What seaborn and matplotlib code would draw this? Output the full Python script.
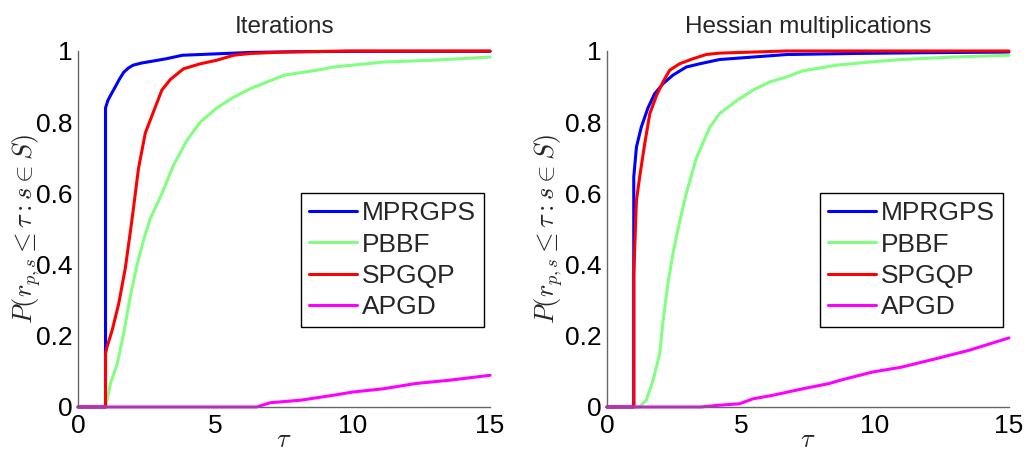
import numpy as np
import pandas as pd
import matplotlib
matplotlib.use("Agg")
import matplotlib.pyplot as plt
import seaborn as sns

# ---------------- data ----------------
methods = ["MPRGPS", "PBBF", "SPGQP", "APGD"]
colors = ["#0000ff", "#80ff80", "#ff0000", "#ff00ff"]
titles = ["Iterations", "Hessian multiplications"]

# Panel 1: Iterations
it_mprgps_tau = [0, 1, 1, 1.08, 1.18, 1.36, 1.5, 1.66, 1.83, 2.0, 2.3, 2.6, 3.2, 3.8, 5.05, 6.3, 8.0, 10.0, 15.0]
it_mprgps_val = [0, 0, 0.84, 0.86, 0.875, 0.90, 0.92, 0.94, 0.952, 0.96, 0.966, 0.97, 0.978, 0.988, 0.992,
                 0.996, 0.998, 0.999, 0.999]

it_pbbf_tau = [0, 1, 1.18, 1.42, 1.66, 1.9, 2.15, 2.39, 2.63, 3.0, 3.48, 3.97, 4.45, 5.05, 5.66,
               6.27, 6.88, 7.5, 8.7, 9.3, 10.5, 11.1, 12.9, 15.0]
it_pbbf_val = [0, 0, 0.066, 0.12, 0.206, 0.31, 0.40, 0.47, 0.53, 0.59, 0.68, 0.75, 0.80, 0.84, 0.87,
               0.894, 0.913, 0.932, 0.946, 0.955, 0.964, 0.969, 0.974, 0.983]

it_spgqp_tau = [0, 1, 1, 1.06, 1.24, 1.48, 1.72, 1.9, 2.02, 2.2, 2.45, 2.75, 3.05, 3.36, 3.84,
                4.45, 5.05, 5.66, 6.27, 7.5, 9.9, 15.0]
it_spgqp_val = [0, 0, 0.15, 0.17, 0.215, 0.29, 0.39, 0.49, 0.56, 0.67, 0.77, 0.83, 0.89, 0.92, 0.95,
                0.964, 0.974, 0.988, 0.993, 0.997, 1.0, 1.0]

it_apgd_tau = [0, 6.5, 7.0, 8.1, 9.3, 10.0, 11.1, 12.3, 13.5, 15.0]
it_apgd_val = [0, 0.0, 0.012, 0.019, 0.033, 0.042, 0.051, 0.066, 0.075, 0.089]

# Panel 2: Hessian multiplications
hm_mprgps_tau = [0, 1, 1, 1.1, 1.28, 1.53, 1.78, 2.09, 2.46, 2.96, 3.46, 4.2, 5.45, 6.7, 9.2, 11.7, 15.0]
hm_mprgps_val = [0, 0, 0.646, 0.73, 0.786, 0.84, 0.88, 0.908, 0.932, 0.955, 0.964, 0.976, 0.983,
                 0.99, 0.993, 0.995, 0.997]

hm_pbbf_tau = [0, 1.2, 1.47, 1.72, 1.97, 2.09, 2.28, 2.46, 2.71, 2.96, 3.34, 3.84, 4.2, 4.83, 5.45,
               6.07, 6.7, 7.3, 8.56, 9.8, 11.0, 12.9, 15.0]
hm_pbbf_val = [0, 0, 0.019, 0.075, 0.15, 0.24, 0.35, 0.43, 0.52, 0.60, 0.70, 0.786, 0.824, 0.86, 0.89,
               0.913, 0.927, 0.944, 0.96, 0.969, 0.976, 0.983, 0.988]

hm_spgqp_tau = [0, 1, 1, 1.1, 1.22, 1.41, 1.6, 1.85, 2.09, 2.34, 2.71, 3.2, 3.7, 4.2, 5.45, 6.7, 15.0]
hm_spgqp_val = [0, 0, 0.37, 0.58, 0.646, 0.74, 0.824, 0.875, 0.913, 0.946, 0.964, 0.978, 0.99,
                0.994, 0.997, 1.0, 1.0]

hm_apgd_tau = [0, 3.5, 4.2, 4.95, 5.45, 6.2, 7.3, 8.3, 8.7, 9.9, 11.0, 12.3, 13.5, 15.0]
hm_apgd_val = [0, 0, 0.005, 0.009, 0.023, 0.033, 0.051, 0.066, 0.075, 0.098, 0.112, 0.136, 0.159, 0.194]

x_ticks = [0, 5, 10, 15]
y_ticks = [0, 0.2, 0.4, 0.6, 0.8, 1]
y_ticklabels = ["0", "0.2", "0.4", "0.6", "0.8", "1"]

panels = [
    [(it_mprgps_tau, it_mprgps_val), (it_pbbf_tau, it_pbbf_val),
     (it_spgqp_tau, it_spgqp_val), (it_apgd_tau, it_apgd_val)],
    [(hm_mprgps_tau, hm_mprgps_val), (hm_pbbf_tau, hm_pbbf_val),
     (hm_spgqp_tau, hm_spgqp_val), (hm_apgd_tau, hm_apgd_val)],
]

# ---------------- style ----------------
sns.set_style("white")
plt.rcParams["font.family"] = ["Liberation Sans", "DejaVu Sans"]
plt.rcParams["mathtext.fontset"] = "cm"

fig = plt.figure(figsize=(10.27, 4.5), dpi=100)
ax_rects = [[0.0760, 0.0956, 0.4012, 0.7911], [0.5910, 0.0956, 0.3914, 0.7911]]
ylabel_x = [-0.085, -0.104]

for k in range(2):
    ax = fig.add_axes(ax_rects[k])
    rows = []
    for m, (t, v) in zip(methods, panels[k]):
        for ti, vi in zip(t, v):
            rows.append({"tau": ti, "P": vi, "method": m})
    df = pd.DataFrame(rows)
    sns.lineplot(data=df, x="tau", y="P", hue="method", hue_order=methods,
                 palette=colors, estimator=None, sort=False, units="method",
                 linewidth=2.2, ax=ax, legend=False)
    for ln in ax.get_lines():
        ln.set_clip_on(False)
    ax.set_xlim(0, 15)
    ax.set_ylim(0, 1)
    ax.set_xticks(x_ticks)
    ax.set_xticklabels([str(x) for x in x_ticks])
    ax.set_yticks(y_ticks)
    ax.set_yticklabels(y_ticklabels)
    for s in ["top", "right"]:
        ax.spines[s].set_visible(False)
    for s in ["left", "bottom"]:
        ax.spines[s].set_color("#666666")
        ax.spines[s].set_linewidth(1.0)
    ax.tick_params(axis="both", direction="in", length=4, width=1.0, color="#666666",
                   labelsize=19, labelcolor="black", pad=5)
    ax.tick_params(axis="y", pad=4)
    ax.set_title(titles[k], fontsize=17.5, pad=13)
    ax.set_xlabel(r"$\tau$", fontsize=19)
    ax.xaxis.set_label_coords(0.5, -0.06)
    ax.set_ylabel(r"$P(r_{p,s} \leq \tau : s \in S)$", fontsize=19)
    ax.yaxis.set_label_coords(ylabel_x[k], 0.5)
    handles = [plt.Line2D([], [], color=c, linewidth=2.2) for c in colors]
    leg = ax.legend(handles, methods, loc="upper right", bbox_to_anchor=(0.985, 0.60),
                    borderaxespad=0, fontsize=19, frameon=True, fancybox=False,
                    handlelength=1.8, handletextpad=0.2, labelspacing=0.28,
                    borderpad=0.3, framealpha=1)
    leg.get_frame().set_edgecolor("black")
    leg.get_frame().set_linewidth(1.0)

fig.savefig("out.png", dpi=100)
